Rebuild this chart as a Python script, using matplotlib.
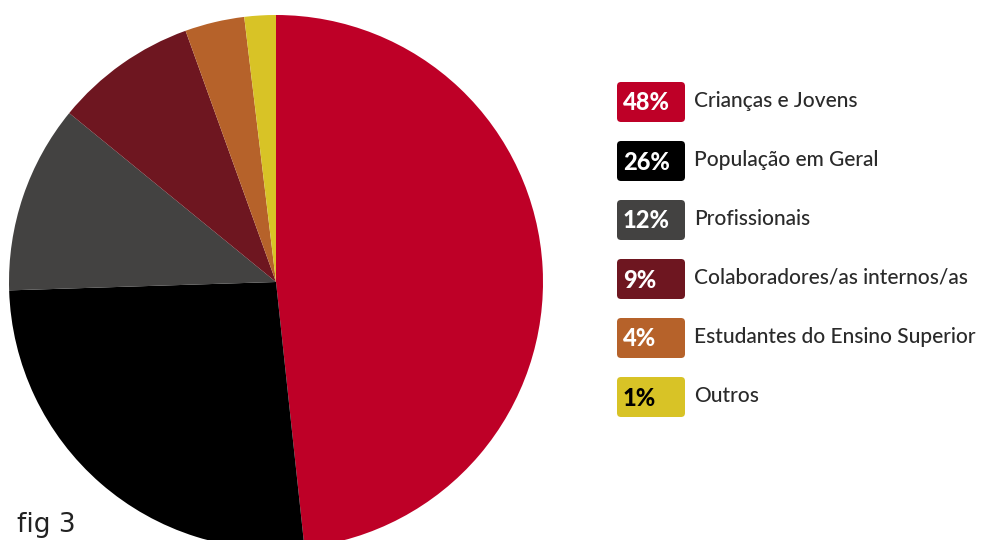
import matplotlib.pyplot as plt
from matplotlib.patches import FancyBboxPatch

# dados
categorias = ["Crianças e Jovens", "População em Geral", "Profissionais",
              "Colaboradores/as internos/as", "Estudantes do Ensino Superior", "Outros"]
valores = [48.3, 26.2, 11.4, 8.6, 3.6, 1.9]
rotulos = ["48%", "26%", "12%", "9%", "4%", "1%"]
cores = ["#BE0027", "#000000", "#434241", "#6E1620", "#B6622A", "#D8C326"]
cor_rotulo = ["white", "white", "white", "white", "white", "black"]

plt.rcParams["font.family"] = ["Lato", "DejaVu Sans"]

fig = plt.figure(figsize=(9.81, 5.4), dpi=100)
ax = fig.add_axes([0, 0, 1, 1])

# pizza (coordenadas em pixels)
ax.pie(valores, colors=cores, startangle=90, counterclock=False,
       center=(276, 258), radius=267, frame=True,
       wedgeprops=dict(linewidth=0))
ax.set_xlim(0, 981)
ax.set_ylim(0, 540)
ax.set_aspect("equal")
ax.axis("off")

# legenda
y0 = 540 - 102
passo = 59
for i, cat in enumerate(categorias):
    y = y0 - i * passo
    caixa = FancyBboxPatch((617, y - 20), 68, 40,
                           boxstyle="round,pad=0,rounding_size=4",
                           facecolor=cores[i], edgecolor="none")
    ax.add_patch(caixa)
    ax.text(623, y - 1, rotulos[i], color=cor_rotulo[i], fontsize=17,
            fontweight="black", va="center", ha="left")
    ax.text(694, y + 1, cat, color="#2a2a2a", fontsize=15,
            fontweight="medium", va="center", ha="left")

ax.text(17, 2, "fig 3", fontsize=19, color="#222222",
        family="DejaVu Sans", va="bottom", ha="left")

fig.savefig("out.png", dpi=100)
